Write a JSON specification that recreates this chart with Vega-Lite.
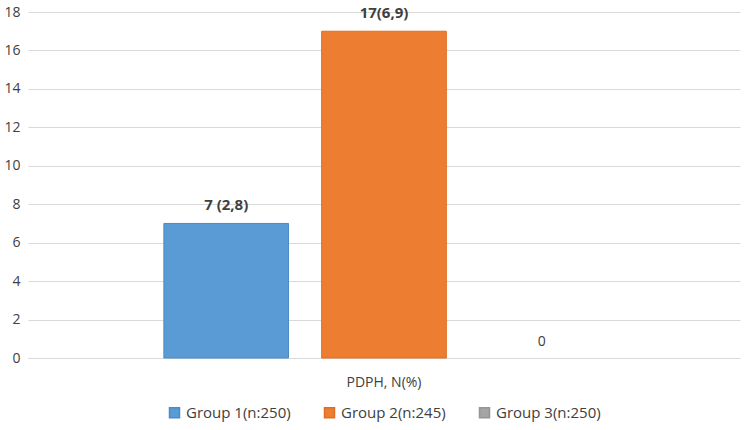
{
  "$schema": "https://vega.github.io/schema/vega-lite/v6.json",
  "width": 745,
  "height": 430,
  "autosize": {"type": "fit", "contains": "padding"},
  "padding": {"left": 3, "right": 5, "top": 5, "bottom": 9},
  "background": "white",
  "config": {
    "font": "Open Sans",
    "view": {"stroke": null},
    "axis": {"labelFont": "Open Sans", "labelColor": "#404040", "labelFontSize": 14},
    "legend": {"layout": {"bottom": {"anchor": "middle"}}}
  },
  "data": {
    "values": [
      {"category": "PDPH, N(%)", "group": "Group 1(n:250)", "value": 7, "label": "7 (2,8)"},
      {"category": "PDPH, N(%)", "group": "Group 2(n:245)", "value": 17, "label": "17(6,9)"},
      {"category": "PDPH, N(%)", "group": "Group 3(n:250)", "value": 0, "label": "0"}
    ]
  },
  "encoding": {
    "x": {
      "field": "category", "type": "nominal",
      "scale": {"paddingInner": 0, "paddingOuter": 0.252},
      "axis": {"title": null, "labelAngle": 0, "ticks": false, "domainColor": "#d9d9d9", "labelPadding": 17}
    },
    "xOffset": {"field": "group", "type": "nominal", "scale": {"paddingInner": 0.21, "paddingOuter": 0.105}},
    "y": {
      "field": "value", "type": "quantitative",
      "scale": {"domain": [0, 18], "nice": false},
      "axis": {"title": null, "values": [0, 2, 4, 6, 8, 10, 12, 14, 16, 18], "ticks": false, "domain": false, "gridColor": "#d9d9d9", "labelPadding": 8}
    }
  },
  "layer": [
    {
      "mark": {"type": "bar", "strokeWidth": 1},
      "encoding": {
        "color": {
          "field": "group", "type": "nominal",
          "scale": {"range": ["#5b9bd5", "#ed7d31", "#a5a5a5"]},
          "legend": {"title": null, "orient": "bottom", "direction": "horizontal", "symbolType": "square", "symbolSize": 100, "labelFontSize": 15, "labelColor": "#404040", "labelFont": "Open Sans", "columnPadding": 30, "offset": 16}
        },
        "stroke": {
          "field": "group", "type": "nominal",
          "scale": {"range": ["#4a8bc8", "#e06e22", "#959595"]},
          "legend": null
        },
        "strokeOpacity": {"condition": {"test": "datum.value == 0", "value": 0}, "value": 1}
      }
    },
    {
      "transform": [{"filter": "datum.value > 0"}],
      "mark": {"type": "text", "baseline": "bottom", "dy": -10, "fontSize": 15, "fontWeight": "bold", "color": "#404040"},
      "encoding": {"text": {"field": "label"}}
    },
    {
      "transform": [{"filter": "datum.value == 0"}],
      "mark": {"type": "text", "baseline": "bottom", "dy": -9, "fontSize": 14, "color": "#404040"},
      "encoding": {"text": {"field": "label"}}
    }
  ]
}
